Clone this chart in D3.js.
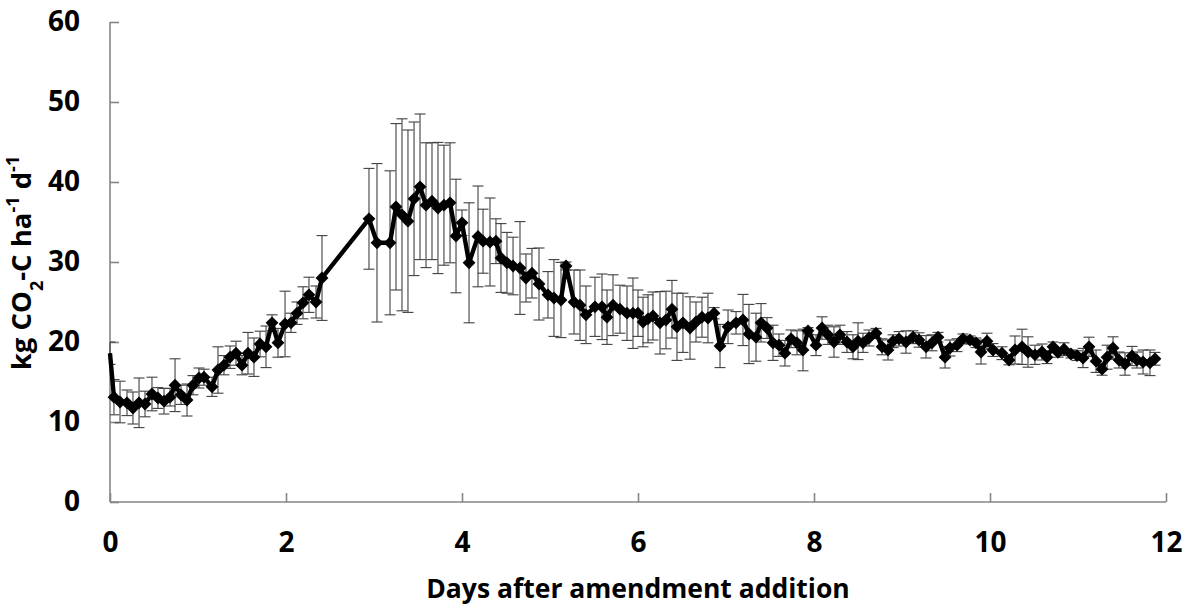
<!DOCTYPE html>
<html>
<head>
<meta charset="utf-8">
<script src="https://cdn.jsdelivr.net/npm/d3@7/dist/d3.min.js"></script>
<style>
  body { margin: 0; background: #fff; }
  text { font-family: "Open Sans", sans-serif; font-weight: bold; fill: #000; }
</style>
</head>
<body>
<div id="chart"></div>
<script>
// days after amendment addition
var days = [0.000, 0.045, 0.114, 0.193, 0.261, 0.330, 0.398, 0.477, 0.545, 0.614,
  0.682, 0.739, 0.807, 0.875, 0.943, 1.011, 1.068, 1.159, 1.227, 1.295,
  1.364, 1.432, 1.500, 1.568, 1.636, 1.705, 1.773, 1.841, 1.909, 1.989,
  2.057, 2.125, 2.193, 2.261, 2.341, 2.409, 2.943, 3.034, 3.182, 3.250,
  3.318, 3.386, 3.455, 3.523, 3.591, 3.659, 3.727, 3.795, 3.864, 3.932,
  4.000, 4.080, 4.182, 4.239, 4.318, 4.386, 4.443, 4.511, 4.580, 4.659,
  4.727, 4.795, 4.875, 4.977, 5.045, 5.125, 5.182, 5.273, 5.341, 5.409,
  5.511, 5.591, 5.648, 5.716, 5.795, 5.875, 5.943, 6.000, 6.057, 6.114,
  6.170, 6.250, 6.318, 6.386, 6.443, 6.511, 6.591, 6.659, 6.727, 6.795,
  6.864, 6.932, 7.023, 7.114, 7.193, 7.261, 7.341, 7.398, 7.466, 7.534,
  7.602, 7.670, 7.739, 7.807, 7.875, 7.932, 8.023, 8.091, 8.159, 8.227,
  8.295, 8.375, 8.443, 8.500, 8.557, 8.625, 8.705, 8.773, 8.841, 8.898,
  8.966, 9.045, 9.125, 9.193, 9.273, 9.341, 9.409, 9.489, 9.545, 9.625,
  9.693, 9.773, 9.841, 9.898, 9.966, 10.034, 10.136, 10.216, 10.284, 10.364,
  10.432, 10.511, 10.591, 10.648, 10.716, 10.773, 10.841, 10.920, 10.989, 11.057,
  11.125, 11.205, 11.273, 11.330, 11.398, 11.466, 11.534, 11.614, 11.670, 11.739,
  11.818, 11.875];

// kg CO2-C per ha per day (mean)
var flux = [18.6, 13.1, 12.5, 12.4, 11.75, 12.4, 12.25, 13.5, 13.0, 12.6,
  13.1, 14.6, 13.4, 12.75, 14.6, 15.5, 15.6, 14.4, 16.5, 17.1,
  18.1, 18.6, 17.1, 18.6, 18.1, 19.75, 19.4, 22.4, 19.9, 22.25,
  22.4, 23.6, 24.9, 25.9, 25.0, 28.0, 35.4, 32.4, 32.4, 36.9,
  35.9, 35.1, 37.9, 39.4, 37.1, 37.6, 36.75, 37.1, 37.4, 33.25,
  34.9, 29.9, 33.2, 32.6, 32.5, 32.6, 30.5, 29.9, 29.5, 29.25,
  28.0, 28.6, 27.25, 25.9, 25.5, 25.25, 29.5, 25.0, 24.6, 23.4,
  24.4, 24.4, 23.1, 24.6, 24.1, 23.6, 23.6, 23.6, 22.5, 22.9,
  23.25, 22.4, 22.75, 24.1, 21.9, 22.4, 21.75, 22.5, 23.1, 23.0,
  23.6, 19.5, 21.9, 22.4, 22.75, 21.0, 20.6, 22.4, 21.75, 19.9,
  19.6, 18.6, 20.4, 19.9, 19.0, 21.4, 19.6, 21.75, 20.9, 20.0,
  20.9, 20.0, 19.4, 20.1, 19.9, 20.5, 21.1, 19.4, 19.0, 20.1,
  20.4, 20.0, 20.6, 20.25, 19.4, 19.9, 20.6, 18.1, 19.25, 19.6,
  20.4, 20.25, 19.9, 18.75, 20.1, 19.0, 18.6, 17.75, 19.0, 19.4,
  18.75, 18.4, 18.75, 18.1, 19.4, 18.7, 19.1, 18.5, 18.3, 18.0,
  19.4, 17.6, 16.6, 18.1, 19.25, 17.75, 17.25, 18.25, 17.75, 17.5,
  17.4, 17.9];

// error bar half-lengths
var fluxErr = [1.4, 2.2, 2.6, 1.6, 2.0, 3.1, 1.6, 2.1, 1.3, 1.6,
  1.1, 3.3, 1.2, 2.0, 1.2, 1.25, 1.0, 1.2, 2.9, 1.2,
  1.4, 1.5, 1.2, 2.6, 2.4, 1.6, 2.6, 1.0, 1.8, 4.1,
  1.2, 1.4, 2.0, 2.2, 2.0, 5.3, 6.3, 9.9, 9.0, 10.4,
  12.0, 11.4, 9.6, 9.1, 7.8, 7.3, 8.2, 7.5, 7.5, 7.1,
  1.6, 7.5, 6.3, 4.0, 5.5, 2.8, 4.3, 3.8, 3.6, 5.8,
  3.0, 3.1, 4.5, 2.9, 4.8, 4.7, 0.5, 4.0, 4.4, 3.6,
  3.7, 4.1, 3.4, 3.8, 3.0, 3.4, 4.4, 2.9, 3.1, 3.0,
  3.0, 3.9, 3.6, 3.6, 4.2, 3.7, 3.9, 2.5, 2.5, 3.1,
  0.7, 2.7, 2.1, 1.4, 3.2, 3.7, 3.0, 2.4, 1.3, 2.2,
  1.4, 1.6, 1.1, 1.5, 2.6, 0.4, 1.3, 1.4, 1.2, 1.9,
  1.2, 1.3, 1.5, 2.3, 1.2, 1.0, 0.6, 1.0, 1.25, 0.8,
  0.9, 1.4, 0.8, 0.9, 1.4, 1.0, 0.6, 1.35, 1.0, 0.8,
  0.6, 0.5, 0.6, 1.5, 1.0, 0.8, 0.8, 0.6, 1.75, 2.2,
  1.9, 1.2, 1.0, 0.8, 0.6, 0.6, 0.8, 0.5, 0.6, 1.2,
  1.2, 1.4, 0.75, 1.5, 1.4, 1.0, 1.4, 1.2, 1.0, 1.5,
  1.6, 0.8];

var xTicks = [0, 2, 4, 6, 8, 10, 12];
var yTicks = [0, 10, 20, 30, 40, 50, 60];

var data = days.map(function (d, i) {
  return { day: d, flux: flux[i], err: fluxErr[i] };
});

var W = 1192, H = 613;
var margin = { left: 110, top: 22, right: 26, bottom: 111 };
var pw = W - margin.left - margin.right,
    ph = H - margin.top - margin.bottom;

var svg = d3.select("#chart").append("svg")
    .attr("width", W)
    .attr("height", H);

var g = svg.append("g")
    .attr("transform", "translate(" + margin.left + "," + margin.top + ")");

var x = d3.scaleLinear().domain([0, 12]).range([0, pw]);
var y = d3.scaleLinear().domain([0, 60]).range([ph, 0]);

// axes, ticks pointing into the plot like the original
var axisColor = "#868686";

var yAxis = g.append("g")
    .call(d3.axisLeft(y).tickValues(yTicks).tickSize(-9).tickPadding(30));
var xAxis = g.append("g")
    .attr("transform", "translate(0," + ph + ")")
    .call(d3.axisBottom(x).tickValues(xTicks).tickSize(-9).tickPadding(30));

[xAxis, yAxis].forEach(function (a) {
  a.select(".domain").attr("stroke", axisColor).attr("stroke-width", 1.6);
  a.selectAll(".tick line").attr("stroke", axisColor).attr("stroke-width", 1.6);
  a.selectAll(".tick text")
      .style("font-family", "'Open Sans', sans-serif")
      .style("font-weight", "bold")
      .style("font-size", "28px")
      .attr("fill", "#000");
});
// plain axis lines without outer ticks
yAxis.select(".domain").attr("d", "M0," + ph + "V0");
xAxis.select(".domain").attr("d", "M0,0H" + pw);

// error bars
var eb = g.append("g").attr("class", "errorbars");
var cap = 5.5;
eb.selectAll("line.v").data(data).enter().append("line")
    .attr("x1", function (d) { return x(d.day); })
    .attr("x2", function (d) { return x(d.day); })
    .attr("y1", function (d) { return y(d.flux + d.err); })
    .attr("y2", function (d) { return y(d.flux - d.err); });
eb.selectAll("line.top").data(data).enter().append("line")
    .attr("x1", function (d) { return Math.max(0, x(d.day) - cap); })
    .attr("x2", function (d) { return x(d.day) + cap; })
    .attr("y1", function (d) { return y(d.flux + d.err); })
    .attr("y2", function (d) { return y(d.flux + d.err); });
eb.selectAll("line.bot").data(data).enter().append("line")
    .attr("x1", function (d) { return Math.max(0, x(d.day) - cap); })
    .attr("x2", function (d) { return x(d.day) + cap; })
    .attr("y1", function (d) { return y(d.flux - d.err); })
    .attr("y2", function (d) { return y(d.flux - d.err); });
eb.selectAll("line")
    .attr("stroke", "#404040")
    .attr("stroke-width", 1.1);

// mean line
var line = d3.line()
    .x(function (d) { return x(d.day); })
    .y(function (d) { return y(d.flux); });

g.append("path")
    .datum(data)
    .attr("fill", "none")
    .attr("stroke", "#000")
    .attr("stroke-width", 4.4)
    .attr("stroke-linejoin", "round")
    .attr("d", line);

// diamond markers (none on the first reading at day 0)
var diamond = d3.symbol().type(d3.symbolSquare).size(82);
g.append("g").selectAll("path")
    .data(data.filter(function (d) { return d.day > 0; }))
    .enter().append("path")
    .attr("d", diamond)
    .attr("transform", function (d) {
      return "translate(" + x(d.day) + "," + y(d.flux) + ") rotate(45)";
    })
    .attr("fill", "#000");

// axis titles
svg.append("text")
    .attr("x", margin.left + pw / 2)
    .attr("y", 598)
    .attr("text-anchor", "middle")
    .style("font-size", "26.5px")
    .text("Days after amendment addition");

var yt = svg.append("text")
    .attr("transform", "translate(31," + 263 + ") rotate(-90)")
    .attr("text-anchor", "middle")
    .style("font-size", "27.5px");
yt.append("tspan").text("kg CO");
yt.append("tspan").attr("baseline-shift", "sub").style("font-size", "18px").text("2");
yt.append("tspan").text("-C ha");
yt.append("tspan").attr("baseline-shift", "super").style("font-size", "18px").text("-1");
yt.append("tspan").text(" d");
yt.append("tspan").attr("baseline-shift", "super").style("font-size", "18px").text("-1");
</script>
</body>
</html>
